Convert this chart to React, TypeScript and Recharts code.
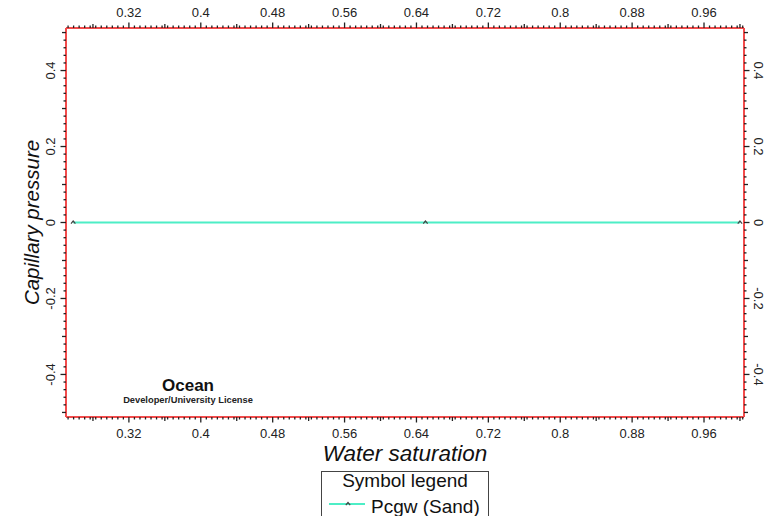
import { LineChart, Line, XAxis, YAxis } from 'recharts';

// water saturation / capillary pressure readings
const SW = [0.258, 0.65, 1.0];
const PCGW = [0, 0, 0];

const X_MAJOR = [0.32, 0.4, 0.48, 0.56, 0.64, 0.72, 0.8, 0.88, 0.96];
const X_LABELS = ['0.32', '0.4', '0.48', '0.56', '0.64', '0.72', '0.8', '0.88', '0.96'];
const Y_MAJOR = [-0.4, -0.2, 0, 0.2, 0.4];
const Y_LABELS = ['-0.4', '-0.2', '0', '0.2', '0.4'];

const X_DOMAIN = [0.25, 1.0045];
const Y_DOMAIN = [-0.512, 0.512];

const FONT = '"Liberation Sans", Arial, sans-serif';
const FRAME = '#f24b4b';
const TICK = '#222';
const LINE = '#4deec6';

const data = SW.map((sw, i) => ({ sw, pc: PCGW[i] }));

// majors + mediums (half step) + minors, kept inside the domain
function buildTicks(major: number[], half: number, minorStep: number, lo: number, hi: number) {
  const out: number[] = [];
  const anchor = major[0];
  for (let k = -40; k <= 200; k++) {
    const v = +(anchor + k * minorStep).toFixed(5);
    if (v >= lo && v <= hi) out.push(v);
  }
  for (let k = -20; k <= 40; k++) {
    const v = +(anchor + k * half).toFixed(5);
    if (v >= lo && v <= hi && !out.some((o) => Math.abs(o - v) < 1e-6)) out.push(v);
  }
  return out.sort((a, b) => a - b);
}

const xTicks = buildTicks(X_MAJOR, 0.04, 0.08 / 13, X_DOMAIN[0], X_DOMAIN[1]);
const yTicks = buildTicks(Y_MAJOR, 0.1, 0.02, Y_DOMAIN[0], Y_DOMAIN[1]);

function kindOf(v: number, major: number[], half: number) {
  const i = major.findIndex((m) => Math.abs(m - v) < 1e-6);
  if (i >= 0) return { kind: 'major', i };
  const r = v / half;
  if (Math.abs(r - Math.round(r)) < 1e-4) return { kind: 'medium', i: -1 };
  return { kind: 'minor', i: -1 };
}

const lenOf = (k: string) => (k === 'major' ? 5.5 : k === 'medium' ? 4 : 2.5);

const xTick = (side: 'top' | 'bottom') => (props: any) => {
  const { x, y, payload } = props;
  const { kind, i } = kindOf(payload.value, X_MAJOR, 0.04);
  const dir = side === 'top' ? -1 : 1;
  return (
    <g>
      <line x1={x} x2={x} y1={y} y2={y + dir * lenOf(kind)} stroke={TICK} strokeWidth={1.3} />
      {kind === 'major' && (
        <text x={x} y={side === 'top' ? y - 10.7 : y + 20.5} textAnchor="middle" fontFamily={FONT} fontSize={13} fill={TICK}>
          {X_LABELS[i]}
        </text>
      )}
    </g>
  );
};

const yTick = (side: 'left' | 'right') => (props: any) => {
  const { x, y, payload } = props;
  const { kind, i } = kindOf(payload.value, Y_MAJOR, 0.1);
  const dir = side === 'left' ? -1 : 1;
  const tx = side === 'left' ? x - 11 : x + 10;
  return (
    <g>
      <line x1={x} x2={x + dir * lenOf(kind)} y1={y} y2={y} stroke={TICK} strokeWidth={1.3} />
      {kind === 'major' && (
        <text
          x={tx}
          y={y}
          transform={`rotate(${side === 'left' ? -90 : 90} ${tx} ${y})`}
          textAnchor="middle"
          fontFamily={FONT}
          fontSize={13}
          fill={TICK}
        >
          {Y_LABELS[i]}
        </text>
      )}
    </g>
  );
};

const Caret = (props: any) => {
  const { cx, cy, index } = props;
  if (cx == null || cy == null) return <g key={index} />;
  return (
    <path
      key={index}
      d={`M${cx - 2.2},${cy + 1.2} L${cx},${cy - 1.5} L${cx + 2.2},${cy + 1.2}`}
      fill="none"
      stroke="#444"
      strokeWidth={1.2}
    />
  );
};

export default function App() {
  return (
    <div style={{ position: 'absolute', left: 0, top: 0, width: 772, height: 516, background: '#fff', overflow: 'hidden' }}>
      <LineChart width={772} height={516} data={data} margin={{ top: 0, right: 0, bottom: 0, left: 0 }}>
        <XAxis
          xAxisId="bottom"
          dataKey="sw"
          type="number"
          orientation="bottom"
          domain={X_DOMAIN}
          allowDataOverflow
          ticks={xTicks}
          interval={0}
          height={99}
          tickSize={0}
          tickMargin={0}
          tick={xTick('bottom')}
          axisLine={{ stroke: FRAME, strokeWidth: 2 }}
          label={(p: any) => {
            const vb = p.viewBox;
            return (
              <text
                x={vb.x + vb.width / 2}
                y={vb.y + 44}
                textAnchor="middle"
                fontFamily={FONT}
                fontStyle="italic"
                fontSize={22.5}
                fill="#111"
              >
                Water saturation
              </text>
            );
          }}
        />
        <XAxis
          xAxisId="top"
          dataKey="sw"
          type="number"
          orientation="top"
          domain={X_DOMAIN}
          allowDataOverflow
          ticks={xTicks}
          interval={0}
          height={28}
          tickSize={0}
          tickMargin={0}
          tick={xTick('top')}
          axisLine={{ stroke: FRAME, strokeWidth: 2 }}
        />
        <YAxis
          yAxisId="left"
          type="number"
          orientation="left"
          domain={Y_DOMAIN}
          allowDataOverflow
          ticks={yTicks}
          interval={0}
          width={66}
          tickSize={0}
          tickMargin={0}
          tick={yTick('left')}
          axisLine={{ stroke: FRAME, strokeWidth: 2 }}
          label={(p: any) => {
            const vb = p.viewBox;
            const cy = vb.y + vb.height / 2;
            return (
              <text
                x={39}
                y={cy}
                transform={`rotate(-90 39 ${cy})`}
                textAnchor="middle"
                fontFamily={FONT}
                fontStyle="italic"
                fontSize={20.5}
                fill="#111"
              >
                Capillary pressure
              </text>
            );
          }}
        />
        <YAxis
          yAxisId="right"
          type="number"
          orientation="right"
          domain={Y_DOMAIN}
          allowDataOverflow
          ticks={yTicks}
          interval={0}
          width={28}
          tickSize={0}
          tickMargin={0}
          tick={yTick('right')}
          axisLine={{ stroke: FRAME, strokeWidth: 2 }}
        />
        <Line
          xAxisId="top"
          yAxisId="right"
          dataKey="pc"
          stroke="none"
          dot={false}
          activeDot={false}
          isAnimationActive={false}
        />
        <Line
          xAxisId="bottom"
          yAxisId="left"
          dataKey="pc"
          name="Pcgw (Sand)"
          type="linear"
          stroke={LINE}
          strokeWidth={2}
          dot={Caret}
          activeDot={false}
          isAnimationActive={false}
        />
      </LineChart>
      <svg width={772} height={516} style={{ position: 'absolute', left: 0, top: 0, pointerEvents: 'none' }}>
        <text x={188} y={390.5} textAnchor="middle" fontFamily={FONT} fontWeight="bold" fontSize={17} fill="#111">
          Ocean
        </text>
        <text x={188} y={402.5} textAnchor="middle" fontFamily={FONT} fontWeight="bold" fontSize={9.3} fill="#222">
          Developer/University License
        </text>
        <rect x={321.5} y={471.5} width={167} height={60} fill="#fff" stroke="#444" strokeWidth={1} />
        <text x={405} y={486.5} textAnchor="middle" fontFamily={FONT} fontSize={19} fill="#111">
          Symbol legend
        </text>
        <line x1={329} x2={365} y1={504} y2={504} stroke={LINE} strokeWidth={2} />
        <path d="M345.8,505.2 L348,502.5 L350.2,505.2" fill="none" stroke="#444" strokeWidth={1.2} />
        <text x={371} y={513} fontFamily={FONT} fontSize={19} fill="#111">
          Pcgw (Sand)
        </text>
      </svg>
    </div>
  );
}
